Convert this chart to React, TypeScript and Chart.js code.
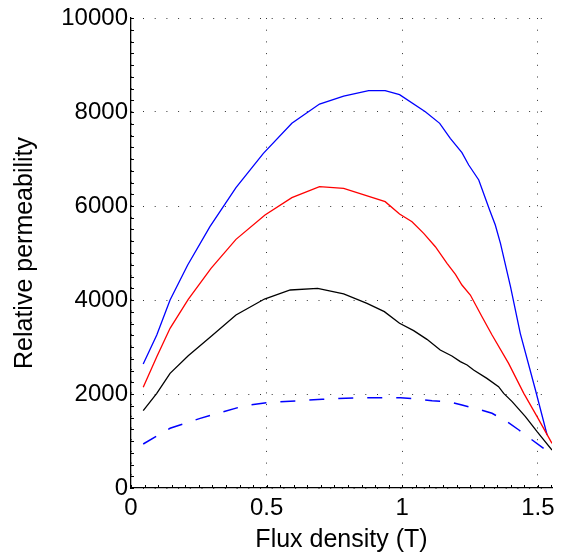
import React, { useEffect, useRef } from "react";
import { Chart, registerables } from "chart.js";

Chart.register(...registerables);

// Flux density (T) and relative permeability
const blueX = [0.045, 0.095, 0.144, 0.209, 0.291, 0.387, 0.488, 0.593, 0.695, 0.784, 0.876, 0.937, 0.99, 1.085, 1.138, 1.177, 1.22, 1.245, 1.282, 1.322, 1.343, 1.362, 1.399, 1.435, 1.491, 1.534];
const blueY = [2638, 3255, 4000, 4745, 5560, 6390, 7120, 7759, 8170, 8340, 8453, 8453, 8368, 8007, 7759, 7440, 7135, 6872, 6553, 5915, 5596, 5206, 4284, 3291, 2085, 1128];

const redX = [0.045, 0.095, 0.144, 0.211, 0.295, 0.387, 0.494, 0.593, 0.695, 0.784, 0.937, 0.99, 1.036, 1.079, 1.122, 1.165, 1.196, 1.22, 1.251, 1.294, 1.331, 1.392, 1.448, 1.497, 1.552];
const redY = [2142, 2794, 3397, 4014, 4673, 5290, 5808, 6177, 6411, 6376, 6092, 5830, 5666, 5418, 5134, 4780, 4546, 4319, 4106, 3645, 3255, 2652, 2014, 1518, 950];

const blackX = [0.045, 0.095, 0.144, 0.211, 0.298, 0.387, 0.492, 0.587, 0.688, 0.784, 0.87, 0.934, 0.99, 1.042, 1.091, 1.14, 1.183, 1.214, 1.239, 1.263, 1.312, 1.355, 1.374, 1.405, 1.454, 1.497, 1.552];
const blackY = [1645, 2014, 2440, 2815, 3241, 3680, 4021, 4213, 4248, 4128, 3929, 3752, 3504, 3348, 3163, 2936, 2808, 2688, 2617, 2511, 2333, 2156, 2014, 1837, 1518, 1198, 809];

const dashX = [0.045, 0.144, 0.255, 0.415, 0.5, 0.705, 0.845, 0.993, 1.066, 1.11, 1.171, 1.22, 1.282, 1.331, 1.386, 1.43, 1.479, 1.521];
const dashY = [936, 1270, 1482, 1745, 1815, 1887, 1922, 1922, 1887, 1858, 1837, 1766, 1674, 1589, 1411, 1234, 1021, 845];

const xTicks = [0, 0.5, 1, 1.5];
const xTickLabels = ["0", "0.5", "1", "1.5"];
const yTicks = [0, 2000, 4000, 6000, 8000, 10000];
const xMinorStep = 0.05;
const yMinorStep = 250;

const xTitle = "Flux density (T)";
const yTitle = "Relative permeability";

const toPts = (xs: number[], ys: number[]) => xs.map((x, i) => ({ x, y: ys[i] }));

const minorTicks = {
  id: "minorTicks",
  afterDraw(chart: any) {
    const { ctx, chartArea, scales } = chart;
    const xs = scales.x;
    const ys = scales.y;
    ctx.save();
    ctx.strokeStyle = "#000";
    ctx.lineWidth = 1;
    ctx.beginPath();
    for (let v = 0; v <= xs.max + 1e-9; v += xMinorStep) {
      const px = Math.round(xs.getPixelForValue(v)) + 0.5;
      ctx.moveTo(px, chartArea.bottom);
      ctx.lineTo(px, chartArea.bottom - 3);
    }
    for (let v = 0; v <= ys.max + 1e-9; v += yMinorStep) {
      const py = Math.round(ys.getPixelForValue(v)) + 0.5;
      ctx.moveTo(chartArea.left, py);
      ctx.lineTo(chartArea.left + 3, py);
    }
    ctx.stroke();
    ctx.restore();
  },
};

export default function App() {
  const ref = useRef<HTMLCanvasElement | null>(null);
  useEffect(() => {
    if (!ref.current) return;
    const font = "'Liberation Sans', Arial, Helvetica, sans-serif";
    const chart = new Chart(ref.current, {
      type: "line",
      data: {
        datasets: [
          { data: toPts(dashX, dashY), borderColor: "#0000ff", borderWidth: 1.5, borderDash: [15, 14], pointRadius: 0, tension: 0, fill: false },
          { data: toPts(blackX, blackY), borderColor: "#000000", borderWidth: 1.3, pointRadius: 0, tension: 0, fill: false },
          { data: toPts(redX, redY), borderColor: "#ff0000", borderWidth: 1.3, pointRadius: 0, tension: 0, fill: false },
          { data: toPts(blueX, blueY), borderColor: "#0000ff", borderWidth: 1.3, pointRadius: 0, tension: 0, fill: false },
        ],
      },
      options: {
        animation: false,
        responsive: false,
        events: [],
        layout: { padding: { left: 0, top: 18, right: 13, bottom: 0 } },
        plugins: { legend: { display: false }, tooltip: { enabled: false } },
        scales: {
          x: {
            type: "linear",
            min: 0,
            max: 1.552,
            afterBuildTicks: (s: any) => {
              s.ticks = xTicks.map((v) => ({ value: v }));
            },
            afterFit: (s: any) => {
              s.height = 70;
            },
            ticks: {
              color: "#000",
              font: { family: font, size: 24 },
              padding: 6,
              maxRotation: 0,
              autoSkip: false,
              callback: (v: any) => xTickLabels[xTicks.indexOf(Number(v))] ?? String(v),
            },
            grid: { color: "#333", lineWidth: 1, drawTicks: false },
            border: { display: true, color: "#000", width: 1.3, dash: [1, 10.7] },
            title: { display: true, text: xTitle, color: "#000", font: { family: font, size: 25 }, padding: { top: 0, bottom: 3 } },
          },
          y: {
            type: "linear",
            min: 0,
            max: 10000,
            afterBuildTicks: (s: any) => {
              s.ticks = yTicks.map((v) => ({ value: v }));
            },
            afterFit: (s: any) => {
              s.width = 131;
            },
            ticks: {
              color: "#000",
              font: { family: font, size: 24 },
              padding: 3,
              callback: (v: any) => String(v),
            },
            grid: { color: "#333", lineWidth: 1, drawTicks: false },
            border: { display: true, color: "#000", width: 1.3, dash: [1, 10.7] },
            title: { display: true, text: yTitle, color: "#000", font: { family: font, size: 25 }, padding: { top: 10, bottom: 0 } },
          },
        },
      },
      plugins: [minorTicks],
    } as any);
    return () => chart.destroy();
  }, []);
  return (
    <div style={{ position: "absolute", left: 0, top: 0, width: 565, height: 558, background: "#fff" }}>
      <canvas ref={ref} width={565} height={558} style={{ display: "block", width: 565, height: 558 }} />
    </div>
  );
}
